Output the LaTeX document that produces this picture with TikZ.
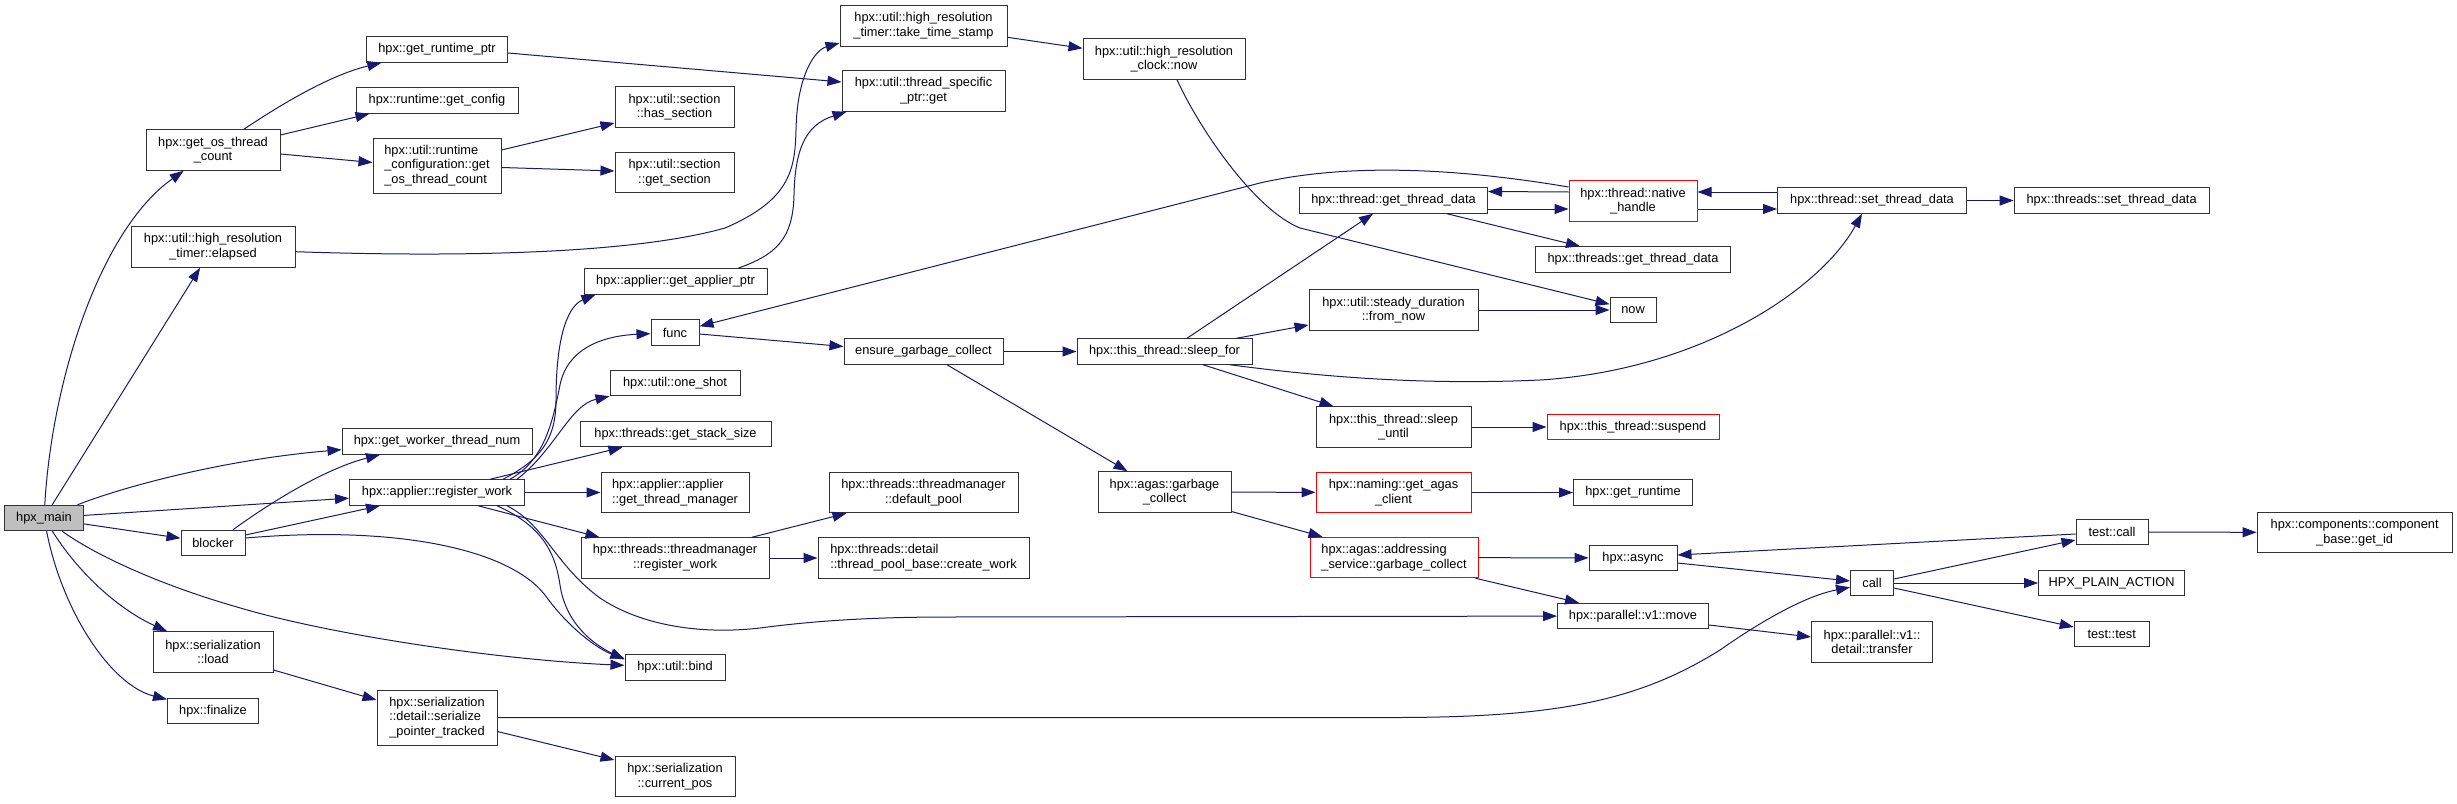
\documentclass[tikz,border=0pt]{standalone}
\usepackage{fontspec}
\setmainfont{Liberation Sans}
\usetikzlibrary{arrows.meta}
\definecolor{edgeblue}{HTML}{191970}
\definecolor{boxgray}{HTML}{BFBFBF}
\begin{document}
\begin{tikzpicture}[x=1pt,y=-1pt,
  box/.style={draw=black!80, line width=1pt, fill=white, inner sep=0pt,
    font=\fontsize{12.8}{14.7}\selectfont, align=center, text=black},
  redbox/.style={box, draw=red},
  s1/.style={minimum height=25.5pt},
  s2/.style={minimum height=40.5pt},
  s3/.style={minimum height=55pt},
  edge/.style={draw=edgeblue, line width=1pt, -{Triangle[length=14pt,width=10pt]}}]
\fill[white] (0,0) rectangle (2457,803);
\useasboundingbox (0,0) rectangle (2457,803);

% nodes
\node[box,s1,minimum width=79pt,fill=boxgray] (main) at (44,518) {hpx\_main};
\node[box,s2,minimum width=134pt] (osthr) at (213,150) {hpx::get\_os\_thread\\\_count};
\node[box,s2,minimum width=164pt] (elapsed) at (213,247) {hpx::util::high\_resolution\\\_timer::elapsed};
\node[box,s1,minimum width=190pt] (worker) at (437,441.5) {hpx::get\_worker\_thread\_num};
\node[box,s1,minimum width=175pt] (regw) at (437,492.5) {hpx::applier::register\_work};
\node[box,s1,minimum width=64pt] (blocker) at (213,543) {blocker};
\node[box,s2,minimum width=120pt] (load) at (213,652) {hpx::serialization\\::load};
\node[box,s1,minimum width=91pt] (finalize) at (213,711) {hpx::finalize};
\node[box,s1,minimum width=141pt] (rtptr) at (437,49.5) {hpx::get\_runtime\_ptr};
\node[box,s1,minimum width=162pt] (getcfg) at (437,100.5) {hpx::runtime::get\_config};
\node[box,s3,minimum width=128pt,align=left] (rtconf) at (437,165.5) {hpx::util::runtime\\\_configuration::get\\\_os\_thread\_count};
\node[box,s3,minimum width=120pt,align=left] (spt) at (437,717.5) {hpx::serialization\\::detail::serialize\\\_pointer\_tracked};
\node[box,s2,minimum width=119pt] (hassec) at (674.5,107) {hpx::util::section\\::has\_section};
\node[box,s2,minimum width=119pt] (getsec) at (674.5,172.5) {hpx::util::section\\::get\_section};
\node[box,s1,minimum width=183pt] (applptr) at (675.5,281.5) {hpx::applier::get\_applier\_ptr};
\node[box,s1,minimum width=48pt] (func) at (675,332.5) {func};
\node[box,s1,minimum width=130pt] (oneshot) at (675,383) {hpx::util::one\_shot};
\node[box,s1,minimum width=191pt] (stack) at (675.5,434) {hpx::threads::get\_stack\_size};
\node[box,s2,minimum width=148pt,align=left] (gtm) at (675,492.5) {hpx::applier::applier\\::get\_thread\_manager};
\node[box,s2,minimum width=188pt] (tmrw) at (675,558) {hpx::threads::threadmanager\\::register\_work};
\node[box,s1,minimum width=100pt] (bind) at (675,667.5) {hpx::util::bind};
\node[box,s2,minimum width=120pt] (curpos) at (675,776.5) {hpx::serialization\\::current\_pos};
\node[box,s2,minimum width=167pt] (tts) at (923.5,26) {hpx::util::high\_resolution\\\_timer::take\_time\_stamp};
\node[box,s2,minimum width=163pt] (tsp) at (923.5,91) {hpx::util::thread\_specific\\\_ptr::get};
\node[box,s1,minimum width=159pt] (ensure) at (923.5,351.5) {ensure\_garbage\_collect};
\node[box,s2,minimum width=189pt] (defpool) at (923.5,492.5) {hpx::threads::threadmanager\\::default\_pool};
\node[box,s2,minimum width=211pt,align=left] (crwork) at (923.5,558) {hpx::threads::detail\\::thread\_pool\_base::create\_work};
\node[box,s2,minimum width=162pt] (clknow) at (1164,59) {hpx::util::high\_resolution\\\_clock::now};
\node[box,s1,minimum width=175pt] (sleepfor) at (1164.5,351.5) {hpx::this\_thread::sleep\_for};
\node[box,s2,minimum width=133pt] (agasgc) at (1164.5,492) {hpx::agas::garbage\\\_collect};
\node[box,s1,minimum width=188pt] (tgtd) at (1393.5,200.5) {hpx::thread::get\_thread\_data};
\node[box,s2,minimum width=169pt] (steady) at (1393.5,310) {hpx::util::steady\_duration\\::from\_now};
\node[box,s2,minimum width=155pt] (sleepuntil) at (1393.5,427) {hpx::this\_thread::sleep\\\_until};
\node[redbox,s2,minimum width=155pt] (agascli) at (1393.5,492.5) {hpx::naming::get\_agas\\\_client};
\node[redbox,s2,minimum width=168pt,align=left] (addr) at (1394,557.5) {hpx::agas::addressing\\\_service::garbage\_collect};
\node[redbox,s2,minimum width=128pt] (native) at (1633,201) {hpx::thread::native\\\_handle};
\node[box,s1,minimum width=195pt] (tsgtd) at (1633,259.5) {hpx::threads::get\_thread\_data};
\node[box,s1,minimum width=46pt] (now) at (1633,310) {now};
\node[redbox,s1,minimum width=172pt] (suspend) at (1633,427) {hpx::this\_thread::suspend};
\node[box,s1,minimum width=119pt] (getrt) at (1633,492.5) {hpx::get\_runtime};
\node[box,s1,minimum width=88pt] (async) at (1633,558) {hpx::async};
\node[box,s1,minimum width=151pt] (move) at (1633,616) {hpx::parallel::v1::move};
\node[box,s1,minimum width=189pt] (tstd) at (1872,200.5) {hpx::thread::set\_thread\_data};
\node[box,s1,minimum width=43pt] (call) at (1872,583) {call};
\node[box,s2,minimum width=121pt] (transfer) at (1872,642) {hpx::parallel::v1::\\detail::transfer};
\node[box,s1,minimum width=195pt] (tsstd) at (2111.6,200.5) {hpx::threads::set\_thread\_data};
\node[box,s1,minimum width=72pt] (tcall) at (2112,532) {test::call};
\node[box,s1,minimum width=146pt] (plain) at (2111.6,583) {HPX\_PLAIN\_ACTION};
\node[box,s1,minimum width=75pt] (ttest) at (2111.7,634) {test::test};
\node[box,s2,minimum width=195pt] (getid) at (2354.6,532.5) {hpx::components::component\\\_base::get\_id};

% edges from hpx_main
\draw[edge] (main) .. controls (52,380) and (100,230) .. (osthr);
\draw[edge] (main) -- (elapsed);
\draw[edge] (main) .. controls (120,488) and (220,460) .. (worker);
\draw[edge] (main) -- (regw);
\draw[edge] (main) -- (blocker);
\draw[edge] (main) .. controls (95,555) and (160,585) .. (237,607) .. controls (330,635) and (500,660) .. (bind);
\draw[edge] (main) .. controls (80,575) and (120,610) .. (load);
\draw[edge] (main) .. controls (62,610) and (110,685) .. (finalize);

% get_os_thread_count
\draw[edge] (osthr) .. controls (280,105) and (330,75) .. (rtptr);
\draw[edge] ([yshift=15pt]osthr.east) -- ([xshift=14pt]getcfg.south west);
\draw[edge] ([yshift=-4pt]osthr.east) -- ([yshift=3pt]rtconf.west);
\draw[edge] ([yshift=-3.5pt]rtptr.east) -- ([yshift=9pt]tsp.west);
\draw[edge] ([yshift=15.5pt]rtconf.east) -- ([yshift=-16pt]hassec.west);
\draw[edge] ([yshift=-2pt]rtconf.east) -- ([yshift=1.5pt]getsec.west);

% timers
\draw[edge] ([yshift=-4.7pt]elapsed.east) .. controls (480,258) and (640,252) .. (725,228) .. controls (790,200) and (795,170) .. (796,130) .. controls (797,75) and (815,50) .. ([yshift=-17pt]tts.west);
\draw[edge] ([yshift=-11.3pt]tts.east) -- ([yshift=10.7pt]clknow.west);
\draw[edge] ([xshift=13pt]clknow.south) .. controls (1200,130) and (1255,210) .. (1300,228) -- (now);
\draw[edge] ([xshift=62.5pt]applptr.north) .. controls (775,255) and (793,240) .. (794,195) .. controls (795,150) and (805,125) .. ([xshift=5pt]tsp.south west);

% blocker
\draw[edge] ([xshift=20pt]blocker.north) .. controls (260,510) and (320,470) .. ([xshift=-57pt]worker.south);
\draw[edge] ([yshift=8pt]blocker.east) -- ([xshift=-57pt]regw.south);
\draw[edge] ([yshift=5pt]blocker.east) .. controls (400,525) and (510,550) .. (545,595) .. controls (570,630) and (600,650) .. ([yshift=9pt]bind.west);

% applier::register_work
\draw[edge] ([xshift=66pt]regw.north) .. controls (540,460) and (556,440) .. (556,400) .. controls (556,330) and (570,305) .. ([xshift=12pt]applptr.south west);
\draw[edge] ([xshift=73pt]regw.north) .. controls (545,460) and (553,420) .. (560,385) .. controls (567,350) and (600,336) .. (func);
\draw[edge] ([xshift=80pt]regw.north) .. controls (555,450) and (570,405) .. (oneshot.south west);
\draw[edge] ([xshift=53pt]regw.north) -- ([xshift=43pt]stack.south west);
\draw[edge] (regw) -- (gtm);
\draw[edge] ([xshift=41pt]regw.south) -- ([xshift=19pt]tmrw.north west);
\draw[edge] ([xshift=60pt]regw.south) .. controls (540,525) and (555,550) .. (560,585) .. controls (566,625) and (595,645) .. ([yshift=8pt]bind.west);
\draw[edge] ([xshift=70pt]regw.south) .. controls (545,525) and (555,565) .. (600,598) .. controls (640,625) and (700,635) .. (760,628) .. controls (820,620) and (880,617) .. (950,617) -- (move);

% threadmanager
\draw[edge] ([xshift=77pt]tmrw.north) -- ([xshift=18pt]defpool.south west);
\draw[edge] (tmrw) -- (crwork);

% serialization
\draw[edge] ([yshift=-18pt]load.east) -- ([yshift=17.5pt]spt.west);
\draw[edge] ([yshift=-14pt]spt.east) -- ([yshift=16.5pt]curpos.west);
\draw[edge] (spt.east) -- (1400,717.5) .. controls (1560,717) and (1640,700) .. (1720,650) .. controls (1770,615) and (1810,595) .. (call);

% func / ensure
\draw[edge] ([yshift=-1.5pt]func.east) -- ([yshift=5pt]ensure.west);
\draw[edge] (ensure) -- (sleepfor);
\draw[edge] ([xshift=23.5pt]ensure.south) -- ([xshift=30pt]agasgc.north west);
\draw[edge] ([yshift=14pt]native.west) .. controls (1480,172) and (1360,160) .. (1260,183) -- (func);

% sleep_for
\draw[edge] ([xshift=22.5pt]sleepfor.north) -- ([xshift=-20.5pt]tgtd.south);
\draw[edge] ([xshift=72pt]sleepfor.north) -- ([yshift=-15pt]steady.west);
\draw[edge] ([xshift=38.5pt]sleepfor.south) -- ([xshift=18pt]sleepuntil.north west);
\draw[edge] ([xshift=65.5pt]sleepfor.south) .. controls (1330,378) and (1430,385) .. (1540,380) .. controls (1700,370) and (1820,290) .. ([xshift=-10pt]tstd.south);

% thread data
\draw[edge] ([yshift=-8.5pt]tgtd.east) -- ([yshift=-8pt]native.west);
\draw[edge] ([yshift=9pt]native.west) -- ([yshift=9pt]tgtd.east);
\draw[edge] ([xshift=53.5pt]tgtd.south) -- ([xshift=-53pt]tsgtd.north);
\draw[edge] ([yshift=-8pt]native.east) -- ([yshift=-8.5pt]tstd.west);
\draw[edge] ([yshift=8.5pt]tstd.west) -- ([yshift=9pt]native.east);
\draw[edge] (tstd) -- (tsstd);
\draw[edge] (steady) -- (now);
\draw[edge] (sleepuntil) -- (suspend);

% agas
\draw[edge] (agasgc) -- (agascli);
\draw[edge] ([yshift=-19.5pt]agasgc.east) -- ([xshift=13pt]addr.north west);
\draw[edge] (agascli) -- (getrt);
\draw[edge] (addr) -- (async);
\draw[edge] ([xshift=-3pt]addr.south east) -- ([xshift=22pt]move.north west);

% call
\draw[edge] ([yshift=-5pt]async.east) -- ([yshift=2pt]call.west);
\draw[edge] ([yshift=-2pt]tcall.west) -- ([yshift=3pt]async.east);
\draw[edge] ([yshift=4pt]call.east) -- ([yshift=-8pt]tcall.west);
\draw[edge] (call) -- (plain);
\draw[edge] ([yshift=-5pt]call.east) -- ([yshift=7pt]ttest.west);
\draw[edge] (tcall) -- (getid);
\draw[edge] ([yshift=-9pt]move.east) -- ([yshift=5pt]transfer.west);
\end{tikzpicture}
\end{document}
